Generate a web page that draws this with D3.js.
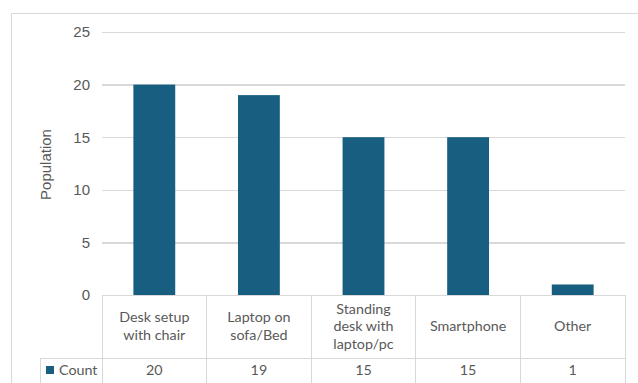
<!DOCTYPE html>
<html>
<head>
<meta charset="utf-8">
<script src="https://cdn.jsdelivr.net/npm/d3@7"></script>
<style>
  html, body { margin: 0; padding: 0; background: #fff; }
  svg { display: block; }
</style>
</head>
<body>
<svg id="chart" width="638" height="383"></svg>
<script>
// Workspace setups and how many respondents use each
const categories = [
  ["Desk setup", "with chair"],
  ["Laptop on", "sofa/Bed"],
  ["Standing", "desk with", "laptop/pc"],
  ["Smartphone"],
  ["Other"]
];
const counts = [20, 19, 15, 15, 1];
const seriesName = "Count";
const yTicks = [0, 5, 10, 15, 20, 25];
const yLabel = "Population";

const W = 638, H = 383;
const plot = { left: 102, right: 625, top: 32, bottom: 295 };
const tableRow1Bottom = 358;
const legendLeft = 40;

const barColor = "#175e80";
const textColor = "#595959";
const gridColor = "#d9d9d9";
const tableColor = "#d9d9d9";

const svg = d3.select("#chart");

// Outer chart frame (clipped by the window on the right and bottom)
svg.append("path")
  .attr("d", `M11.5,${H + 2} V13.5 H${W + 2}`)
  .attr("fill", "none")
  .attr("stroke", gridColor)
  .attr("stroke-width", 1);

const idx = d3.range(categories.length);
const x = d3.scaleBand().domain(idx).range([plot.left, plot.right]).paddingInner(0).paddingOuter(0);
const y = d3.scaleLinear().domain([0, 25]).range([plot.bottom, plot.top]);

// Gridlines and tick labels
const yAxis = d3.axisLeft(y)
  .tickValues(yTicks)
  .tickSize(-(plot.right - plot.left))
  .tickPadding(12)
  .tickFormat(d3.format("d"));

const gAxis = svg.append("g")
  .attr("transform", `translate(${plot.left},0)`)
  .call(yAxis);
gAxis.select(".domain").remove();
gAxis.selectAll(".tick line")
  .attr("stroke", gridColor)
  .attr("stroke-width", 1.3)
  .attr("shape-rendering", "crispEdges");
gAxis.selectAll(".tick text")
  .attr("fill", textColor)
  .attr("font-family", "'Liberation Sans', Arial, sans-serif")
  .attr("font-size", 15)
  .attr("x", -12);

// Bars
const barW = x.bandwidth() * 0.4;
svg.append("g").selectAll("rect")
  .data(counts)
  .join("rect")
  .attr("x", (d, i) => x(i) + (x.bandwidth() - barW) / 2)
  .attr("y", d => y(d))
  .attr("width", barW)
  .attr("height", d => y(0) - y(d))
  .attr("fill", barColor);

// Data table below the plot
const tbl = svg.append("g")
  .attr("stroke", tableColor)
  .attr("stroke-width", 1)
  .attr("fill", "none")
  .attr("shape-rendering", "crispEdges");

// horizontal lines
tbl.append("line").attr("x1", plot.left).attr("x2", plot.right).attr("y1", plot.bottom).attr("y2", plot.bottom);
tbl.append("line").attr("x1", legendLeft).attr("x2", plot.right).attr("y1", tableRow1Bottom).attr("y2", tableRow1Bottom);
// vertical lines at category boundaries
const boundaries = idx.map(i => x(i)).concat([x.range()[1]]);
tbl.selectAll("line.v")
  .data(boundaries)
  .join("line")
  .attr("class", "v")
  .attr("x1", d => d).attr("x2", d => d)
  .attr("y1", plot.bottom).attr("y2", H + 2);
tbl.append("line").attr("x1", legendLeft).attr("x2", legendLeft).attr("y1", tableRow1Bottom).attr("y2", H + 2);

const tableFont = "Lato, 'Noto Sans', sans-serif";
const tableSize = 14.3;
const lineH = 17.5;
const headerMid = 325;

const heads = svg.append("g")
  .attr("font-family", tableFont)
  .attr("font-size", tableSize)
  .attr("fill", textColor)
  .attr("text-anchor", "middle");

categories.forEach((lines, i) => {
  const cx = x(i) + x.bandwidth() / 2;
  const t = heads.append("text")
    .attr("x", cx)
    .attr("y", headerMid - (lines.length - 1) * lineH / 2)
    .attr("dominant-baseline", "central");
  lines.forEach((ln, k) => {
    t.append("tspan").attr("x", cx).attr("dy", k === 0 ? 0 : lineH).text(ln);
  });
});

// Value row
const rowMid = 369.5;
svg.append("g")
  .attr("font-family", tableFont)
  .attr("font-size", tableSize)
  .attr("fill", textColor)
  .attr("text-anchor", "middle")
  .selectAll("text")
  .data(counts)
  .join("text")
  .attr("x", (d, i) => x(i) + x.bandwidth() / 2)
  .attr("y", rowMid)
  .attr("dominant-baseline", "central")
  .text(d => d);

// Legend key in the row header
svg.append("rect")
  .attr("x", 46).attr("y", 366)
  .attr("width", 8).attr("height", 8)
  .attr("fill", barColor);
svg.append("text")
  .attr("x", 59).attr("y", rowMid)
  .attr("dominant-baseline", "central")
  .attr("font-family", tableFont)
  .attr("font-size", tableSize)
  .attr("fill", textColor)
  .text(seriesName);

// Y-axis title
svg.append("text")
  .attr("transform", `translate(45,${(plot.top + plot.bottom) / 2 + 1}) rotate(-90)`)
  .attr("text-anchor", "middle")
  .attr("dominant-baseline", "central")
  .attr("font-family", "'Liberation Sans', Arial, sans-serif")
  .attr("font-size", 15)
  .attr("fill", textColor)
  .text(yLabel);
</script>
</body>
</html>
